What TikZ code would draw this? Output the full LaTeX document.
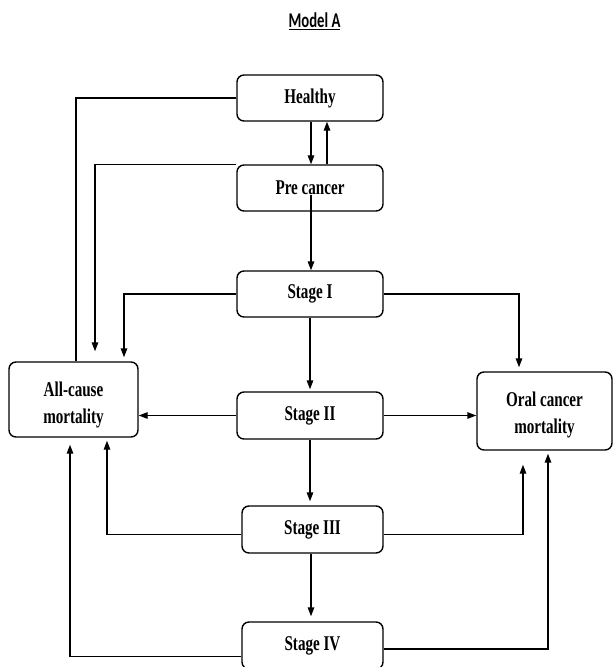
\documentclass[tikz,border=0pt]{standalone}
\usepackage{fontspec}
\newfontfamily\boxfont{Liberation Serif}[FakeStretch=0.72]
\newfontfamily\titlefont{Carlito}[FakeStretch=0.7]
\usetikzlibrary{arrows.meta}
\newcommand{\twolines}[3]{\raisebox{#3}[0pt][0pt]{\begin{tabular}{@{}c@{}}#1\\#2\end{tabular}}}
\begin{document}
\begin{tikzpicture}[x=1pt,y=-1pt,
  box/.style={draw, line width=1.4pt, rounded corners=7pt, inner sep=0pt, align=center,
    font=\boxfont\bfseries\fontsize{21}{27}\selectfont},
  arr/.style={line width=1.4pt, -{Triangle[length=9pt,width=6.5pt]}},
  ln/.style={line width=1.4pt}]
\useasboundingbox (0,0) rectangle (613,667);
\clip (0,0) rectangle (613,667);
\fill[white] (0,0) rectangle (613,667);
% title
\node[font=\titlefont\bfseries\fontsize{21}{24}\selectfont, inner sep=0pt] (title) at (314.5,21) {\underline{Model A}};
% boxes
\node[box, minimum width=146pt, minimum height=46pt] (healthy) at (310,98) {Healthy};
\node[box, minimum width=146pt, minimum height=46pt] (pre) at (310,188) {Pre cancer};
\node[box, minimum width=146pt, minimum height=46pt] (s1) at (310,294) {Stage I};
\node[box, minimum width=146pt, minimum height=47pt] (s2) at (310,415.5) {Stage II};
\node[box, minimum width=141pt, minimum height=47pt] (s3) at (312.5,529.5) {Stage III};
\node[box, minimum width=141pt, minimum height=47pt] (s4) at (312.5,645.5) {Stage IV};
\node[box, minimum width=129pt, minimum height=75pt] (allc) at (73.5,399.5) {\twolines{All-cause}{mortality}{-10pt}};
\node[box, minimum width=135pt, minimum height=78pt] (oral) at (544.5,411) {\twolines{Oral cancer}{mortality}{-9pt}};
% connectors
\draw[arr] ([xshift=1pt]healthy.south) -- ([xshift=1pt]pre.north);
\draw[arr] ([xshift=17pt]pre.north) -- ([xshift=17pt]healthy.south);
\draw[arr] ([xshift=1pt,yshift=-7pt]pre.center) -- ([xshift=1pt]s1.north);
\draw[ln] (healthy.west) -| ([xshift=2.5pt]allc.north);
\draw[arr, shorten >=10pt] (pre.north west) -| ([xshift=21.5pt]allc.north);
\draw[arr, shorten >=4pt] (s1.west) -| ([xshift=50.5pt]allc.north);
\draw[arr, shorten >=4pt] (s1.east) -| ([xshift=-25.5pt]oral.north);
\draw[arr, shorten >=2pt] (s1.south) -- (s2.north);
\draw[arr] (s2.west) -- (s2.west -| allc.east);
\draw[arr] (s2.east) -- (s2.east -| oral.west);
\draw[arr, shorten >=4pt] (s2.south) -- (s2.south |- s3.north);
\draw[arr, shorten >=3pt] ([yshift=-5pt]s3.west) -| ([xshift=33.5pt]allc.south);
\draw[arr, shorten >=14pt] ([yshift=-5pt]s3.east) -| ([xshift=-21.5pt]oral.south);
\draw[arr, shorten >=5pt] ([xshift=-1.5pt]s3.south) -- ([xshift=-1.5pt]s4.north);
\draw[arr, shorten >=7pt] ([yshift=-11pt]s4.west) -| ([xshift=-3.5pt]allc.south);
\draw[arr, shorten >=3pt] ([yshift=-3.5pt]s4.east) -| ([xshift=3.5pt]oral.south);
\end{tikzpicture}
\end{document}
